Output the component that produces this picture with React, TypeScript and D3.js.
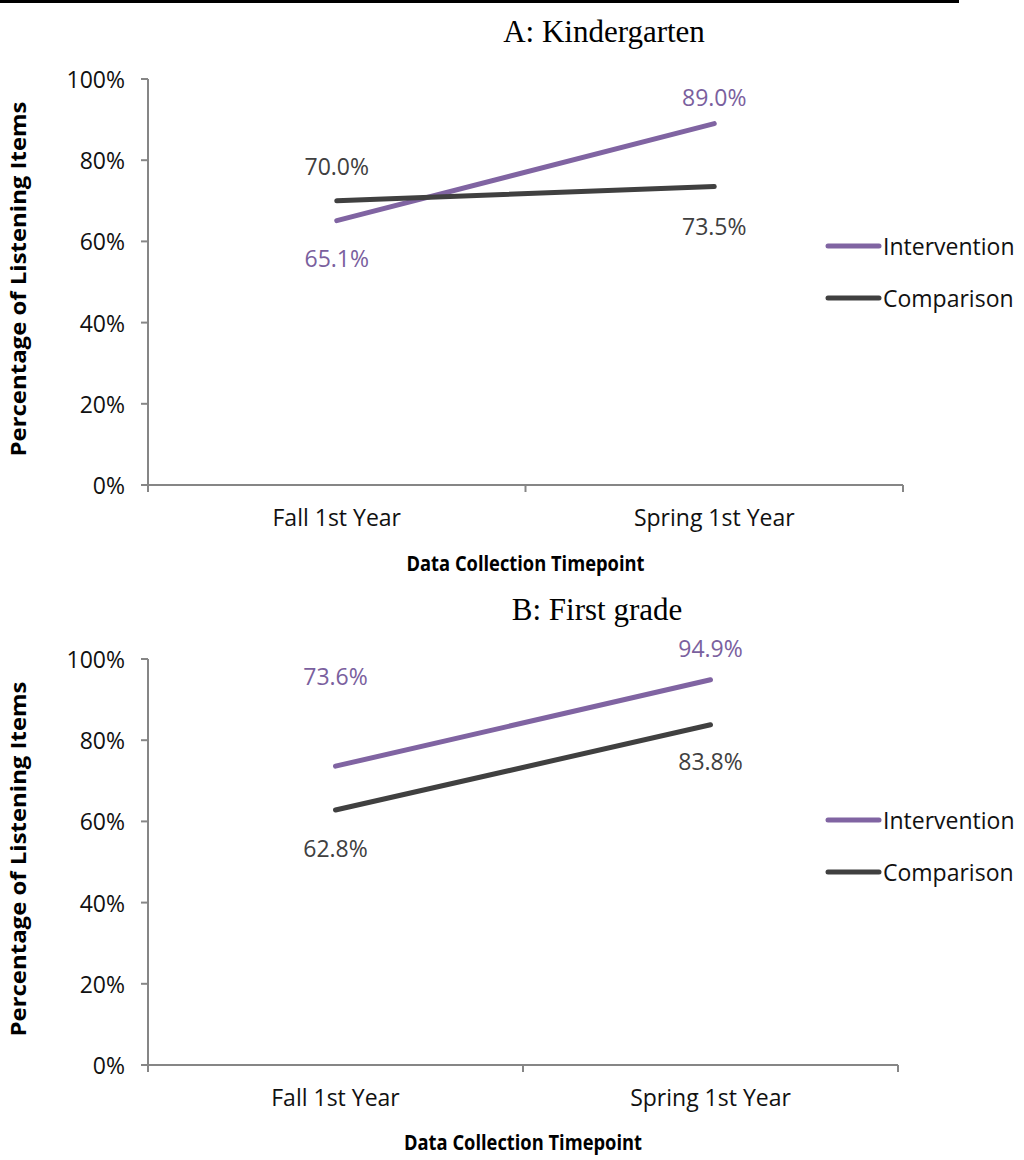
import React from "react";
import * as d3 from "d3";

const categories = ["Fall 1st Year", "Spring 1st Year"];
const yTicks = [0, 20, 40, 60, 80, 100];
const seriesNames = ["Intervention", "Comparison"];
const kindergartenIntervention = [65.1, 89.0];
const kindergartenComparison = [70.0, 73.5];
const firstGradeIntervention = [73.6, 94.9];
const firstGradeComparison = [62.8, 83.8];

const COLORS = ["#8064A2", "#404040"];
const LABEL_COLORS = ["#7A609E", "#404040"];
const SANS = "'Open Sans', 'Noto Sans', sans-serif";
const SERIF = "'Liberation Serif', 'DejaVu Serif', serif";

type Panel = {
  title: string;
  titleX: number;
  series: number[][];
  labelDy: number[][];
  top: number;
  bottom: number;
  left: number;
  right: number;
  titleY: number;
  legendY: number;
  xTitleY: number;
};

const panels: Panel[] = [
  {
    title: "A: Kindergarten",
    titleX: 604,
    series: [kindergartenIntervention, kindergartenComparison],
    labelDy: [[37, -27], [-35, 39]],
    top: 79,
    bottom: 485,
    left: 148,
    right: 903,
    titleY: 31,
    legendY: 246,
    xTitleY: 563,
  },
  {
    title: "B: First grade",
    titleX: 597,
    series: [firstGradeIntervention, firstGradeComparison],
    labelDy: [[-90, -32], [38, 36]],
    top: 659,
    bottom: 1065,
    left: 148,
    right: 898,
    titleY: 609,
    legendY: 820,
    xTitleY: 1142,
  },
];

function ChartPanel({ p }: { p: Panel }) {
  const x = d3.scalePoint<string>().domain(categories).range([p.left, p.right]).padding(0.5);
  const y = d3.scaleLinear().domain([0, 100]).range([p.bottom, p.top]);
  const line = d3
    .line<number>()
    .x((_, i) => x(categories[i]) as number)
    .y((d) => y(d));
  const axisColor = "#868686";
  const midX = (p.left + p.right) / 2;
  const xTickPositions = [p.left, midX, p.right];
  return (
    <g>
      <text
        x={p.titleX}
        y={p.titleY}
        fontFamily={SERIF}
        fontSize={31}
        textAnchor="middle"
        dominantBaseline="central"
        fill="#000"
      >
        {p.title}
      </text>
      {/* y axis */}
      <line x1={p.left} x2={p.left} y1={p.top} y2={p.bottom} stroke={axisColor} strokeWidth={2} />
      {yTicks.map((t) => (
        <g key={t}>
          <line x1={p.left - 7} x2={p.left} y1={y(t)} y2={y(t)} stroke={axisColor} strokeWidth={2} />
          <text
            x={p.left - 23}
            y={y(t)}
            textAnchor="end"
            dominantBaseline="central"
            fontFamily={SANS}
            fontSize={23}
            fill="#111"
          >
            {t}%
          </text>
        </g>
      ))}
      {/* x axis */}
      <line x1={p.left - 7} x2={p.right} y1={p.bottom} y2={p.bottom} stroke={axisColor} strokeWidth={2} />
      {xTickPositions.map((xt, i) => (
        <line key={i} x1={xt} x2={xt} y1={p.bottom} y2={p.bottom + 7} stroke={axisColor} strokeWidth={2} />
      ))}
      {categories.map((c) => (
        <text
          key={c}
          x={x(c)}
          y={p.bottom + 32}
          textAnchor="middle"
          dominantBaseline="central"
          fontFamily={SANS}
          fontSize={23}
          fill="#111"
        >
          {c}
        </text>
      ))}
      <text
        x={(p.left + p.right) / 2}
        y={p.xTitleY}
        textAnchor="middle"
        dominantBaseline="central"
        fontFamily={SANS}
        fontWeight="bold"
        fontSize={21}
        fill="#000"
        textLength={238}
        lengthAdjust="spacingAndGlyphs"
      >
        Data Collection Timepoint
      </text>
      <text
        transform={`translate(18, ${(p.top + p.bottom) / 2 - 3}) rotate(-90)`}
        textAnchor="middle"
        dominantBaseline="central"
        fontFamily={SANS}
        fontWeight="bold"
        fontSize={21}
        fill="#000"
        textLength={355}
        lengthAdjust="spacingAndGlyphs"
      >
        Percentage of Listening Items
      </text>
      {/* lines */}
      {p.series.map((s, si) => (
        <path
          key={si}
          d={line(s) || ""}
          fill="none"
          stroke={COLORS[si]}
          strokeWidth={5}
          strokeLinecap="round"
        />
      ))}
      {/* data labels */}
      {p.series.map((s, si) =>
        s.map((v, i) => (
          <text
            key={`${si}-${i}`}
            x={x(categories[i])}
            y={y(v) + p.labelDy[si][i]}
            textAnchor="middle"
            dominantBaseline="central"
            fontFamily={SANS}
            fontSize={23}
            fill={LABEL_COLORS[si]}
          >
            {v.toFixed(1)}%
          </text>
        ))
      )}
      {/* legend */}
      {seriesNames.map((n, si) => (
        <g key={n}>
          <line
            x1={828}
            x2={879}
            y1={p.legendY + si * 52}
            y2={p.legendY + si * 52}
            stroke={COLORS[si]}
            strokeWidth={5}
            strokeLinecap="round"
          />
          <text
            x={883}
            y={p.legendY + si * 52}
            dominantBaseline="central"
            fontFamily={SANS}
            fontSize={23}
            fill="#111"
          >
            {n}
          </text>
        </g>
      ))}
    </g>
  );
}

export default function App() {
  return (
    <svg
      width={1024}
      height={1160}
      style={{ position: "absolute", left: 0, top: 0, background: "#fff" }}
    >
      <rect width={1024} height={1160} fill="#fff" />
      <line x1={0} x2={959} y1={1.5} y2={1.5} stroke="#000" strokeWidth={3} />
      {panels.map((p) => (
        <ChartPanel key={p.title} p={p} />
      ))}
    </svg>
  );
}
